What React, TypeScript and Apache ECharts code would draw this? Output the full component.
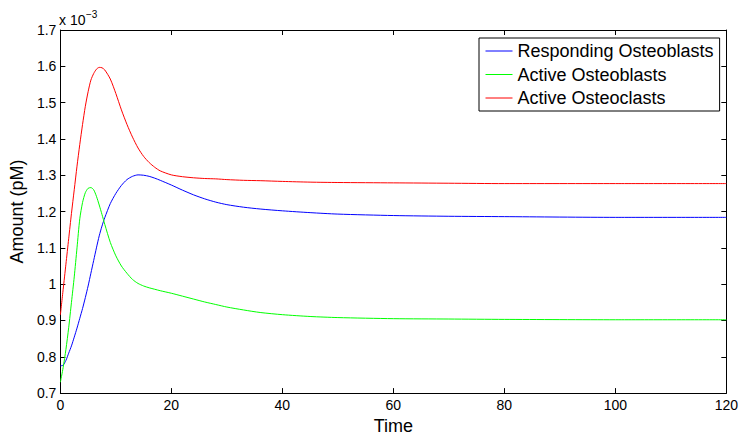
import React, { useEffect, useRef } from "react";
import * as echarts from "echarts";

const times = [0, 0.5, 1, 1.5, 2, 2.5, 3, 3.5, 4, 4.5, 5, 5.5, 6, 6.5, 7, 7.5, 8, 9, 10, 11, 12, 13, 14, 15, 16, 17, 18, 20, 22, 24, 26, 28, 30, 33, 36, 40, 45, 50, 60, 70, 80, 100, 120];

const respondingOsteoblasts = [0.775, 0.777, 0.79, 0.81, 0.83, 0.854, 0.879, 0.906, 0.933, 0.963, 0.995, 1.03, 1.065, 1.1, 1.133, 1.16, 1.183, 1.222, 1.25, 1.272, 1.288, 1.297, 1.301, 1.3, 1.297, 1.292, 1.286, 1.273, 1.259, 1.246, 1.235, 1.226, 1.219, 1.212, 1.207, 1.202, 1.197, 1.193, 1.189, 1.187, 1.186, 1.184, 1.184];

const activeOsteoblasts = [0.73, 0.77, 0.82, 0.88, 0.95, 1.02, 1.1, 1.18, 1.225, 1.252, 1.264, 1.266, 1.26, 1.242, 1.218, 1.192, 1.165, 1.115, 1.078, 1.05, 1.03, 1.013, 1.002, 0.995, 0.99, 0.986, 0.982, 0.975, 0.967, 0.959, 0.951, 0.944, 0.937, 0.929, 0.922, 0.916, 0.911, 0.908, 0.905, 0.904, 0.903, 0.902, 0.902];

const activeOsteoclasts = [0.915, 0.985, 1.055, 1.125, 1.195, 1.26, 1.325, 1.385, 1.44, 1.49, 1.53, 1.562, 1.58, 1.592, 1.597, 1.596, 1.59, 1.565, 1.525, 1.48, 1.44, 1.405, 1.375, 1.352, 1.335, 1.322, 1.312, 1.301, 1.296, 1.293, 1.291, 1.29, 1.288, 1.286, 1.285, 1.283, 1.281, 1.28, 1.279, 1.278, 1.277, 1.277, 1.277];

const seriesNames = ["Responding Osteoblasts", "Active Osteoblasts", "Active Osteoclasts"];
const seriesColors = ["#0000ff", "#00ff00", "#ff0000"];
const seriesValues = [respondingOsteoblasts, activeOsteoblasts, activeOsteoclasts];

const FONT = "'Liberation Sans', Arial, Helvetica, sans-serif";

export default function App() {
  const ref = useRef<HTMLDivElement>(null);
  useEffect(() => {
    if (!ref.current) return;
    const chart = echarts.init(ref.current, null, { renderer: "svg" });
    const axisLine = { show: true, onZero: false, lineStyle: { color: "#000", width: 1 } };
    const tick = { show: true, inside: true, length: 5, lineStyle: { color: "#000", width: 1 } };
    const fmtY = (v: number) => String(+v.toFixed(1));
    chart.setOption({
      animation: false,
      backgroundColor: "#fff",
      textStyle: { fontFamily: FONT },
      grid: { left: 59, right: 13, top: 30, bottom: 41, containLabel: false },
      legend: {
        orient: "vertical",
        left: 479,
        top: 38,
        padding: [3.5, 6, 3.5, 6],
        itemGap: 4.5,
        itemWidth: 27,
        itemHeight: 14,
        borderColor: "#000",
        borderWidth: 1,
        backgroundColor: "#fff",
        itemStyle: { opacity: 0 },
        lineStyle: { width: 1 },
        textStyle: { fontSize: 18, color: "#000", fontFamily: FONT, lineHeight: 19 },
        data: seriesNames,
      },
      xAxis: [
        {
          type: "value",
          min: 0,
          max: 120,
          interval: 20,
          name: "Time",
          nameLocation: "middle",
          nameGap: 17,
          nameTextStyle: { fontSize: 18, color: "#000", fontFamily: FONT },
          axisLine,
          axisTick: tick,
          axisLabel: { fontSize: 14, color: "#000", margin: 5, fontFamily: FONT },
          splitLine: { show: false },
        },
        {
          type: "value",
          position: "top",
          min: 0,
          max: 120,
          interval: 20,
          axisLine,
          axisTick: tick,
          axisLabel: { show: false },
          splitLine: { show: false },
        },
      ],
      yAxis: [
        {
          type: "value",
          min: 0.7,
          max: 1.7,
          interval: 0.1,
          name: "Amount (pM)",
          nameLocation: "middle",
          nameGap: 29,
          nameTextStyle: { fontSize: 18, color: "#000", fontFamily: FONT },
          axisLine,
          axisTick: tick,
          axisLabel: { fontSize: 14, color: "#000", margin: 4, formatter: fmtY, fontFamily: FONT },
          splitLine: { show: false },
        },
        {
          type: "value",
          position: "right",
          min: 0.7,
          max: 1.7,
          interval: 0.1,
          axisLine,
          axisTick: tick,
          axisLabel: { show: false },
          splitLine: { show: false },
        },
      ],
      graphic: [
        {
          type: "text",
          left: 59,
          top: 13,
          style: { text: "x 10", fontSize: 14, fill: "#000", fontFamily: FONT },
        },
        {
          type: "text",
          left: 86,
          top: 9,
          style: { text: "\u22123", fontSize: 10, fill: "#000", fontFamily: FONT },
        },
      ],
      series: seriesNames.map((n, i) => ({
        name: n,
        type: "line",
        xAxisIndex: 0,
        yAxisIndex: 0,
        symbol: "none",
        smooth: 0.25,
        lineStyle: { color: seriesColors[i], width: 1 },
        itemStyle: { color: seriesColors[i] },
        data: times.map((t, k) => [t, seriesValues[i][k]]),
      })),
    });
    return () => chart.dispose();
  }, []);
  return <div ref={ref} style={{ width: 741, height: 440, position: "absolute", left: 0, top: 0 }} />;
}
